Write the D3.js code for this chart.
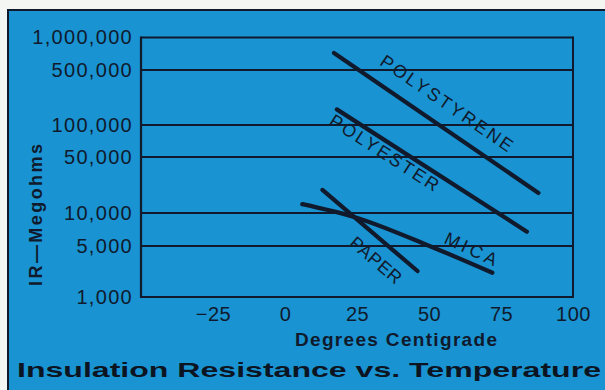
<!DOCTYPE html>
<html>
<head>
<meta charset="utf-8">
<script src="https://cdn.jsdelivr.net/npm/d3@7"></script>
<style>
html,body{margin:0;padding:0;background:#fff;}
svg{display:block;}
</style>
</head>
<body>
<svg id="chart" width="605" height="390"></svg>
<script>
// ---- data ----
const materials = ["POLYSTYRENE", "POLYESTER", "PAPER", "MICA"];
const polystyreneTemp = [17, 88];
const polystyreneIR   = [718000, 17800];
const polyesterTemp   = [18, 84];
const polyesterIR     = [158000, 6750];
const paperTemp       = [13, 46];
const paperIR         = [19400, 2270];
const micaTemp        = [6, 24, 51, 72];
const micaIR          = [12900, 9200, 4850, 2150];
const yTicks = [1000, 5000, 10000, 50000, 100000, 500000, 1000000];
const yTickLabels = ["1,000", "5,000", "10,000", "50,000", "100,000", "500,000", "1,000,000"];
const xTicks = [-25, 0, 25, 50, 75, 100];
const xTickLabels = ["\u221225", "0", "25", "50", "75", "100"];
const title = "Insulation Resistance vs. Temperature";
const xTitle = "Degrees Centigrade";
const yTitle = "IR\u2014Megohms";

// ---- layout ----
const W = 605, H = 390;
const L = 141, R = 573, T = 37.5, B = 297;
const ink = "#101a2c";
const blue = "#1993d1";

const svg = d3.select("#chart");
svg.append("rect").attr("x", 0).attr("y", 0).attr("width", W).attr("height", H).attr("fill", "#f4f6f4");
svg.append("rect").attr("x", 8).attr("y", 10).attr("width", W - 8).attr("height", H - 10).attr("fill", blue);
svg.append("line").attr("x1", 8).attr("x2", 8).attr("y1", 9).attr("y2", H).attr("stroke", ink).attr("stroke-width", 2);
svg.append("line").attr("x1", 7).attr("x2", W).attr("y1", 10).attr("y2", 10).attr("stroke", ink).attr("stroke-width", 2);

// scales
const x = d3.scaleLinear().domain([-50, 100]).range([L, R]);
// the printed chart's log axis places half-decade lines slightly off true log positions
const yl = d3.scaleLinear()
  .domain(yTicks.map(v => Math.log10(v)))
  .range([B, 246, 213, 157, 125, 70, T]);
const y = v => yl(Math.log10(v));

// grid lines
svg.append("g").selectAll("line").data(yTicks).join("line")
  .attr("x1", L).attr("x2", R)
  .attr("y1", d => y(d)).attr("y2", d => y(d))
  .attr("stroke", ink).attr("stroke-width", 2);
// frame verticals
svg.append("line").attr("x1", L).attr("x2", L).attr("y1", T - 1).attr("y2", B + 1).attr("stroke", ink).attr("stroke-width", 2.2);
svg.append("line").attr("x1", R).attr("x2", R).attr("y1", T - 1).attr("y2", B + 1).attr("stroke", ink).attr("stroke-width", 2);

// y axis labels
const yAxis = d3.axisLeft(yl)
  .tickValues(yTicks.map(v => Math.log10(v)))
  .tickFormat((d, i) => yTickLabels[i])
  .tickSize(0).tickPadding(8);
const gy = svg.append("g").attr("transform", `translate(${L},0)`).call(yAxis);
gy.select(".domain").remove();
gy.selectAll("text").attr("fill", ink).attr("font-family", "Liberation Sans, Arial, sans-serif")
  .attr("font-size", 20).attr("letter-spacing", 1.3);

// x axis labels
const xAxis = d3.axisBottom(x).tickValues(xTicks)
  .tickFormat((d, i) => xTickLabels[i]).tickSize(0).tickPadding(10);
const gx = svg.append("g").attr("transform", `translate(0,${B})`).call(xAxis);
gx.select(".domain").remove();
gx.selectAll("text").attr("fill", ink).attr("font-family", "Liberation Sans, Arial, sans-serif")
  .attr("font-size", 20).attr("letter-spacing", 0.5);

// data lines
const seriesTemp = [polystyreneTemp, polyesterTemp, paperTemp, micaTemp];
const seriesIR = [polystyreneIR, polyesterIR, paperIR, micaIR];
const lines = materials.map((m, i) => ({
  name: m,
  pts: seriesTemp[i].map((t, j) => [t, seriesIR[i][j]])
}));
const lineGen = d3.line().x(d => x(d[0])).y(d => y(d[1])).curve(d3.curveMonotoneX);
svg.append("g").selectAll("path").data(lines).join("path")
  .attr("d", d => lineGen(d.pts))
  .attr("fill", "none").attr("stroke", ink).attr("stroke-width", 4.2).attr("stroke-linecap", "round");

// line labels: position t along the first-to-last chord, perpendicular offset (positive = above)
const labelStyle = {
  POLYSTYRENE: {t: 0.49, off: 22, len: 156, rot: 0},
  POLYESTER:   {t: 0.28, off: -11, len: 126, rot: 0},
  PAPER:       {t: 0.69, off: -19, len: 62, rot: 0},
  MICA:        {t: 0.86, off: 15, len: 56, rot: 5}
};
lines.forEach(d => {
  const s = labelStyle[d.name];
  const a = d.pts[0], b = d.pts[d.pts.length - 1];
  const x0 = x(a[0]), y0 = y(a[1]);
  const x1 = x(b[0]), y1 = y(b[1]);
  const dx = x1 - x0, dy = y1 - y0, len = Math.hypot(dx, dy);
  const ux = dx / len, uy = dy / len;
  const nx = uy, ny = -ux;
  const cx = x0 + ux * len * s.t + nx * s.off;
  const cy = y0 + uy * len * s.t + ny * s.off;
  const ang = Math.atan2(dy, dx) * 180 / Math.PI + s.rot;
  svg.append("text")
    .attr("transform", `translate(${cx},${cy}) rotate(${ang})`)
    .attr("text-anchor", "middle").attr("dominant-baseline", "central")
    .attr("font-family", "Liberation Sans, Arial, sans-serif").attr("font-size", 18)
    .attr("textLength", s.len).attr("lengthAdjust", "spacing")
    .attr("fill", ink).text(d.name);
});

// axis titles
svg.append("text").attr("x", 396).attr("y", 346).attr("text-anchor", "middle")
  .attr("font-family", "Liberation Sans, Arial, sans-serif").attr("font-weight", "bold").attr("font-size", 19)
  .attr("textLength", 202).attr("lengthAdjust", "spacing").attr("fill", ink).text(xTitle);
svg.append("text").attr("transform", "translate(42,215) rotate(-90)").attr("text-anchor", "middle")
  .attr("font-family", "Liberation Sans, Arial, sans-serif").attr("font-weight", "bold").attr("font-size", 18)
  .attr("textLength", 142).attr("lengthAdjust", "spacing").attr("fill", ink).text(yTitle);

// main title
svg.append("text").attr("x", 17).attr("y", 377)
  .attr("font-family", "Liberation Sans, Arial, sans-serif").attr("font-weight", "bold").attr("font-size", 21)
  .attr("textLength", 584).attr("lengthAdjust", "spacingAndGlyphs").attr("fill", "#0c1422").text(title);
</script>
</body>
</html>
